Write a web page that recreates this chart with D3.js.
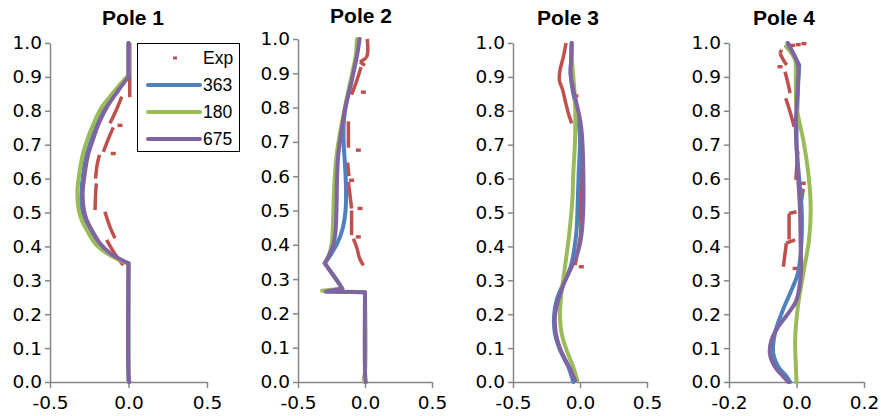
<!DOCTYPE html>
<html>
<head>
<meta charset="utf-8">
<script src="https://cdn.jsdelivr.net/npm/d3@7"></script>
<style>
  html, body { margin: 0; padding: 0; background: #fff; }
  svg { display: block; }
  text { font-family: "Liberation Sans", Arial, sans-serif; }
</style>
</head>
<body>
<svg id="chart" width="881" height="416"></svg>
<script>
// ---------------- DATA ----------------
const poleTitles = ["Pole 1", "Pole 2", "Pole 3", "Pole 4"];
const seriesNames = ["Exp", "363", "180", "675"];
const yTickValues = [0, 0.1, 0.2, 0.3, 0.4, 0.5, 0.6, 0.7, 0.8, 0.9, 1.0];
const xTicksWide = [-0.5, 0, 0.5];
const xTicksNarrow = [-0.2, 0, 0.2];

// Pole 1
const p1_exp = [
  [[0.008,1.0],[0.008,0.84]],
  [[-0.043,0.842],[-0.08,0.80],[-0.118,0.763]],
  [[-0.097,0.751],[-0.13,0.715],[-0.16,0.679]],
  [[-0.185,0.67],[-0.2,0.64],[-0.21,0.60]],
  [[-0.205,0.586],[-0.21,0.55],[-0.213,0.507]],
  [[-0.15,0.502],[-0.12,0.46],[-0.086,0.424]],
  [[-0.139,0.419],[-0.09,0.38],[-0.033,0.345]]
];
const p1_expDash = [[-0.054,0.757],[-0.097,0.674]];
const p1_363 = [[0,1.0],[0,0.9],[-0.075,0.86],[-0.15,0.81],[-0.2,0.76],[-0.24,0.71],[-0.27,0.665],[-0.29,0.61],[-0.30,0.557],[-0.298,0.51],[-0.28,0.47],[-0.255,0.45],[-0.19,0.409],[-0.125,0.38],[-0.05,0.36],[0,0.35],[0,0.0]];
const p1_180 = [[0,1.0],[0,0.905],[-0.086,0.86],[-0.171,0.81],[-0.224,0.76],[-0.266,0.71],[-0.294,0.665],[-0.318,0.6],[-0.326,0.557],[-0.318,0.51],[-0.30,0.48],[-0.277,0.458],[-0.213,0.409],[-0.139,0.38],[-0.06,0.36],[0,0.35],[0,0.0]];
const p1_675 = [[0,1.0],[0,0.9],[-0.065,0.86],[-0.139,0.81],[-0.192,0.76],[-0.23,0.71],[-0.26,0.665],[-0.28,0.61],[-0.292,0.557],[-0.285,0.51],[-0.268,0.48],[-0.245,0.458],[-0.182,0.409],[-0.118,0.38],[-0.043,0.36],[0,0.35],[0,0.02],[0.006,0.0]];

// Pole 2
const p2_exp = [
  [[0.017,1.0],[0.02,0.96],[0.01,0.945],[-0.037,0.933],[0,0.923]],
  [[-0.03,0.918],[-0.06,0.88],[-0.1,0.838]],
  [[-0.124,0.76],[-0.124,0.683]],
  [[-0.13,0.64],[-0.12,0.60]],
  [[-0.124,0.583],[-0.1,0.506]],
  [[-0.1,0.50],[-0.1,0.428]],
  [[-0.087,0.418],[-0.06,0.39],[-0.04,0.36],[-0.012,0.34]]
];
const p2_expDash = [[-0.012,0.845],[-0.05,0.676],[-0.1,0.588],[-0.037,0.506],[-0.05,0.423]];
const p2_363 = [[-0.045,1.0],[-0.065,0.95],[-0.085,0.91],[-0.112,0.86],[-0.14,0.81],[-0.158,0.76],[-0.16,0.70],[-0.152,0.65],[-0.142,0.57],[-0.145,0.5],[-0.165,0.45],[-0.207,0.404],[-0.25,0.375],[-0.3,0.346],[-0.19,0.285],[-0.17,0.272],[-0.3,0.264],[0,0.262],[0,0.0]];
const p2_180 = [[-0.06,1.0],[-0.07,0.95],[-0.09,0.91],[-0.118,0.86],[-0.145,0.81],[-0.17,0.76],[-0.19,0.72],[-0.215,0.65],[-0.23,0.57],[-0.236,0.5],[-0.24,0.45],[-0.25,0.4],[-0.27,0.37],[-0.3,0.346],[-0.19,0.285],[-0.17,0.272],[-0.32,0.266],[0,0.262],[0,0.03],[-0.01,0.01],[0,0.0]];
const p2_675 = [[-0.04,1.0],[-0.06,0.95],[-0.082,0.91],[-0.11,0.86],[-0.142,0.81],[-0.165,0.76],[-0.18,0.72],[-0.2,0.66],[-0.208,0.6],[-0.213,0.5],[-0.22,0.44],[-0.236,0.40],[-0.261,0.375],[-0.3,0.346],[-0.19,0.285],[-0.17,0.272],[-0.29,0.264],[0,0.262],[0,0.03],[0.006,0.0]];

// Pole 3
const p3_exp = [
  [[-0.104,1.0],[-0.124,0.96],[-0.149,0.92],[-0.154,0.89],[-0.129,0.861],[-0.112,0.832],[-0.087,0.793],[-0.062,0.763]],
  [[0.005,0.674],[0.008,0.6],[0.005,0.51],[0.005,0.44],[-0.015,0.39],[-0.037,0.345]]
];
const p3_expDash = [[-0.03,0.844],[0.01,0.34]];
const p3_363 = [[-0.062,1.0],[-0.066,0.95],[-0.07,0.91],[-0.055,0.861],[-0.03,0.812],[-0.01,0.763],[0.0,0.714],[-0.01,0.615],[-0.018,0.517],[-0.028,0.438],[-0.07,0.34],[-0.124,0.291],[-0.174,0.242],[-0.194,0.193],[-0.187,0.143],[-0.149,0.094],[-0.087,0.044],[-0.05,0.0]];
const p3_180 = [[-0.062,1.0],[-0.06,0.95],[-0.05,0.9],[-0.04,0.85],[-0.035,0.8],[-0.037,0.714],[-0.05,0.616],[-0.057,0.537],[-0.08,0.438],[-0.112,0.34],[-0.144,0.242],[-0.149,0.193],[-0.137,0.143],[-0.1,0.094],[-0.05,0.044],[-0.02,0.005]];
const p3_675 = [[-0.062,1.0],[-0.066,0.95],[-0.07,0.91],[-0.05,0.861],[-0.02,0.812],[0.005,0.763],[0.017,0.714],[0.025,0.615],[0.025,0.517],[0.012,0.438],[-0.012,0.389],[-0.062,0.34],[-0.119,0.291],[-0.162,0.242],[-0.187,0.193],[-0.18,0.143],[-0.144,0.094],[-0.08,0.044],[-0.037,0.005]];

// Pole 4
const p4_exp = [
  [[-0.044,0.98],[-0.049,0.97],[-0.039,0.95],[-0.029,0.935]],
  [[-0.034,0.915],[-0.025,0.88],[-0.019,0.852]],
  [[-0.032,0.837],[-0.02,0.80],[-0.007,0.753]],
  [[0.004,0.68],[-0.002,0.596]],
  [[0.02,0.57],[0.015,0.537]],
  [[0.0,0.502],[-0.022,0.497],[-0.022,0.42]],
  [[-0.004,0.419],[-0.03,0.41],[-0.039,0.34]]
];
const p4_expDash = [[-0.012,0.993],[0.005,0.995],[0.022,0.998],[-0.049,0.93],[0.02,0.586],[-0.004,0.335]];
const p4_363 = [[-0.026,1.0],[-0.01,0.97],[0.008,0.935],[0.005,0.88],[0.002,0.8],[0.0,0.7],[0.008,0.6],[0.015,0.517],[0.015,0.419],[0.004,0.32],[-0.019,0.262],[-0.044,0.203],[-0.064,0.143],[-0.069,0.085],[-0.054,0.045],[-0.029,0.016],[-0.019,0.0]];
const p4_180 = [[-0.031,0.99],[-0.015,0.97],[-0.004,0.95],[-0.002,0.88],[0.0,0.812],[0.02,0.714],[0.035,0.616],[0.042,0.517],[0.037,0.419],[0.02,0.32],[0.004,0.222],[-0.004,0.124],[-0.002,0.05],[0.0,0.0]];
const p4_675 = [[-0.026,1.0],[-0.01,0.97],[0.005,0.935],[0.004,0.88],[0.0,0.812],[-0.002,0.75],[0.0,0.7],[0.004,0.616],[0.01,0.517],[0.012,0.42],[0.013,0.32],[0.0,0.242],[-0.024,0.203],[-0.054,0.163],[-0.074,0.124],[-0.079,0.085],[-0.064,0.045],[-0.039,0.016],[-0.024,0.0]];

// ---------------- LAYOUT ----------------
const colors = { exp: "#C0504D", s363: "#4F81BD", s180: "#9BBB59", s675: "#8064A2" };
const axisColor = "#868686";

const panels = [
  { title: poleTitles[0], left: 50,  right: 207, top: 43, bottom: 382, xd: [-0.5, 0.5], xt: xTicksWide,   tx: 133, ty: 25,
    exp: p1_exp, dash: p1_expDash, s363: p1_363, s180: p1_180, s675: p1_675 },
  { title: poleTitles[1], left: 298, right: 432, top: 39, bottom: 382, xd: [-0.5, 0.5], xt: xTicksWide,   tx: 361, ty: 23,
    exp: p2_exp, dash: p2_expDash, s363: p2_363, s180: p2_180, s675: p2_675 },
  { title: poleTitles[2], left: 513, right: 647, top: 43, bottom: 382, xd: [-0.5, 0.5], xt: xTicksWide,   tx: 568, ty: 25,
    exp: p3_exp, dash: p3_expDash, s363: p3_363, s180: p3_180, s675: p3_675 },
  { title: poleTitles[3], left: 729, right: 864, top: 43, bottom: 382, xd: [-0.2, 0.2], xt: xTicksNarrow, tx: 784, ty: 25,
    exp: p4_exp, dash: p4_expDash, s363: p4_363, s180: p4_180, s675: p4_675 }
];

const svg = d3.select("#chart");
const fmt = d => d.toFixed(1);
const tickFont = '"DejaVu Sans", "Liberation Sans", sans-serif';

// smooth line that keeps sharp corners: split where the direction turns sharply
function cornerSmoothPath(points, x, y) {
  const px = points.map(d => [x(d[0]), y(d[1])]);
  const pieces = [];
  let cur = [px[0]];
  for (let i = 1; i < px.length; i++) {
    cur.push(px[i]);
    if (i < px.length - 1) {
      const ax = px[i][0] - px[i-1][0], ay = px[i][1] - px[i-1][1];
      const bx = px[i+1][0] - px[i][0], by = px[i+1][1] - px[i][1];
      const la = Math.hypot(ax, ay), lb = Math.hypot(bx, by);
      const cos = (ax*bx + ay*by) / (la*lb || 1);
      if (cos < Math.cos(30 * Math.PI / 180)) { pieces.push(cur); cur = [px[i]]; }
    }
  }
  pieces.push(cur);
  const gen = d3.line().curve(d3.curveCatmullRom.alpha(0.5));
  return pieces.map(pc => gen(pc)).join("");
}

panels.forEach(p => {
  const x = d3.scaleLinear().domain(p.xd).range([p.left, p.right]);
  const y = d3.scaleLinear().domain([0, 1]).range([p.bottom, p.top]);
  const g = svg.append("g");

  // axes
  const ya = g.append("g").attr("transform", `translate(${p.left},0)`)
    .call(d3.axisLeft(y).tickValues(yTickValues).tickFormat(fmt).tickSize(5).tickSizeOuter(0).tickPadding(3));
  const xa = g.append("g").attr("transform", `translate(0,${p.bottom})`)
    .call(d3.axisBottom(x).tickValues(p.xt).tickFormat(fmt).tickSize(6).tickSizeOuter(0).tickPadding(8));
  [ya, xa].forEach(a => {
    a.select(".domain").attr("stroke", axisColor).attr("stroke-width", 1.5);
    a.selectAll(".tick line").attr("stroke", axisColor).attr("stroke-width", 1.5);
    a.selectAll(".tick text").attr("fill", "#000").style("font-size", "18.5px")
      .style("font-family", tickFont);
  });

  // title
  g.append("text").attr("x", p.tx).attr("y", p.ty).attr("text-anchor", "middle")
    .style("font-size", "21px").style("font-weight", "bold").text(p.title);

  // Exp (dense markers forming segments)
  p.exp.forEach(seg => {
    g.append("path").attr("d", cornerSmoothPath(seg, x, y)).attr("fill", "none")
      .attr("stroke", colors.exp).attr("stroke-width", 3.5).attr("stroke-linecap", "butt").attr("stroke-linejoin", "round");
  });
  g.selectAll(null).data(p.dash).enter().append("rect")
    .attr("x", d => x(d[0]) - 2.5).attr("y", d => y(d[1]) - 1.7)
    .attr("width", 5).attr("height", 3.4).attr("fill", colors.exp);

  // simulations
  [["s363", colors.s363], ["s180", colors.s180], ["s675", colors.s675]].forEach(([k, c]) => {
    g.append("path").attr("d", cornerSmoothPath(p[k], x, y)).attr("fill", "none")
      .attr("stroke", c).attr("stroke-width", 4).attr("stroke-linejoin", "round").attr("stroke-linecap", "round");
  });
});

// legend
const lg = svg.append("g");
lg.append("rect").attr("x", 137.5).attr("y", 43.5).attr("width", 102).attr("height", 108)
  .attr("fill", "#fff").attr("stroke", "#000").attr("stroke-width", 1);
const legendItems = [
  { name: seriesNames[0], color: colors.exp, marker: true },
  { name: seriesNames[1], color: colors.s363 },
  { name: seriesNames[2], color: colors.s180 },
  { name: seriesNames[3], color: colors.s675 }
];
legendItems.forEach((it, i) => {
  const cy = 58 + i * 27;
  if (it.marker) {
    lg.append("rect").attr("x", 173).attr("y", cy - 1.5).attr("width", 4).attr("height", 3).attr("fill", it.color);
  } else {
    lg.append("line").attr("x1", 148).attr("x2", 200).attr("y1", cy).attr("y2", cy)
      .attr("stroke", it.color).attr("stroke-width", 4).attr("stroke-linecap", "round");
  }
  lg.append("text").attr("x", 203).attr("y", cy).attr("dy", "0.36em")
    .style("font-size", "17.5px").text(it.name);
});
</script>
</body>
</html>
